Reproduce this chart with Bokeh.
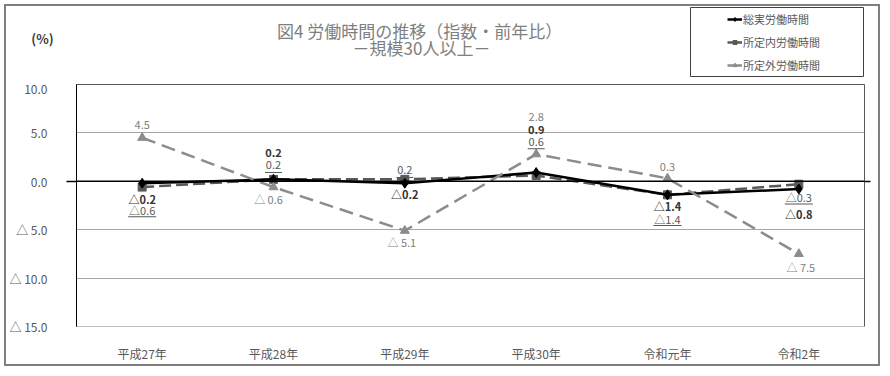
from bokeh.plotting import figure
from bokeh.layouts import column
from bokeh.models import (FactorRange, Range1d, FixedTicker, Span, Legend,
                          LegendItem, LinearAxis)
from bokeh.core.properties import value
from bokeh.embed import file_html
from bokeh.resources import INLINE

# ---------------- data ----------------
years = ["平成27年", "平成28年", "平成29年", "平成30年", "令和元年", "令和2年"]
total_hours = [-0.2, 0.2, -0.2, 0.9, -1.4, -0.8]        # 総実労働時間
scheduled_hours = [-0.6, 0.2, 0.2, 0.6, -1.4, -0.3]     # 所定内労働時間
overtime_hours = [4.5, -0.6, -5.1, 2.8, 0.3, -7.5]      # 所定外労働時間
series_names = ["総実労働時間", "所定内労働時間", "所定外労働時間"]
y_ticks = [10, 5, 0, -5, -10, -15]
y_tick_labels = ["10.0", "5.0", "0.0", "△ 5.0", "△ 10.0", "△ 15.0"]
title_line1 = "図4  労働時間の推移（指数・前年比）"
title_line2 = "－規模30人以上－"
unit_label = "(%)"

# ---------------- layout / style ----------------
FONT = "Noto Sans CJK JP"
OX, OY = 6, 6            # page offset of the chart box
W = 872
HEAD_H = 73
MAIN_H = 285
Y_MIN, Y_MAX = -15, 10
ML, MR, MT, MB = 68, 14, 5, 36
FRAME_H = MAIN_H - MT - MB
PPU = FRAME_H / (Y_MAX - Y_MIN)

# label offsets in pixels (up positive)
total_dy = [-16, 27, -11, 43, -11, -25]
sched_dy = [-23, 14, 9, 34, -24, -13]
over_dy = [13, -12, -11, 38, 11, -13]
over_dx = [0, -5, -3, 0, 0, 2]

C_TOTAL = "black"
C_SCHED = "#595959"
C_OVER = "#8c8c8c"


def fmt(v, space=""):
    return ("△" + space + f"{abs(v):.1f}") if v < 0 else f"{v:.1f}"


# ================= header (title + legend) =================
h = figure(width=W, height=HEAD_H,
           x_range=Range1d(OX, OX + W), y_range=Range1d(OY + HEAD_H, OY),
           output_backend="svg", toolbar_location=None,
           min_border_left=0, min_border_right=0, min_border_top=0, min_border_bottom=0,
           x_axis_location=None, y_axis_location=None)
h.frame_align = False
h.grid.grid_line_color = None
h.outline_line_color = None
h.background_fill_color = "white"
h.border_fill_color = "white"

h.text(x=[421, 421], y=[30, 47], text=[title_line1, title_line2],
       text_font=value(FONT), text_font_size="17px", text_color="#808080",
       text_align="center", text_baseline="middle")
h.text(x=[42], y=[38], text=[unit_label], text_font=value(FONT),
       text_font_size="13px", text_font_style="bold", text_color="#404040",
       text_align="center", text_baseline="middle")
# legend box
h.quad(left=[690], right=[863], top=[7], bottom=[76], fill_color=None,
       line_color="#404040", line_width=1)

# legend-only renderers (their single point lies outside the header's view)
OFF = [-1000]
lt = h.line(x=OFF, y=OFF, line_color=C_TOTAL, line_width=2.5)
mt = h.scatter(x=OFF, y=OFF, marker="diamond", size=9, fill_color=C_TOTAL, line_color=C_TOTAL)
ls = h.line(x=OFF, y=OFF, line_color=C_SCHED, line_width=2.5)
ms = h.scatter(x=OFF, y=OFF, marker="square", size=7, fill_color=C_SCHED, line_color=C_SCHED)
lo = h.line(x=OFF, y=OFF, line_color=C_OVER, line_width=2.5)
mo = h.scatter(x=OFF, y=OFF, marker="triangle", size=8, fill_color=C_OVER, line_color=C_OVER)
legend = Legend(items=[
    LegendItem(label=series_names[0], renderers=[lt, mt]),
    LegendItem(label=series_names[1], renderers=[ls, ms]),
    LegendItem(label=series_names[2], renderers=[lo, mo]),
], location=(727 - OX, 4), border_line_color=None, background_fill_alpha=0,
    label_text_font=FONT, label_text_font_size="11px", label_text_color="#595959",
    glyph_width=15, glyph_height=10, label_height=21, spacing=2, padding=0,
    label_standoff=1, margin=0)
h.add_layout(legend)

# ================= main chart =================
p = figure(x_range=FactorRange(factors=years, range_padding=0),
           y_range=Range1d(Y_MIN, Y_MAX),
           width=W, height=MAIN_H, output_backend="svg", toolbar_location=None,
           min_border_left=ML, min_border_right=MR, min_border_top=MT,
           min_border_bottom=MB)
p.frame_align = False
p.background_fill_color = "white"
p.border_fill_color = "white"
p.outline_line_color = "#595959"
p.outline_line_width = 1

p.xgrid.grid_line_color = None
p.ygrid.ticker = FixedTicker(ticks=y_ticks)
p.ygrid.grid_line_color = "#a6a6a6"
p.ygrid.grid_line_width = 1

p.yaxis.ticker = FixedTicker(ticks=y_ticks, minor_ticks=[0])
p.yaxis.major_label_overrides = dict(zip(y_ticks, y_tick_labels))
p.yaxis.major_tick_line_color = None
p.yaxis.minor_tick_line_color = "black"
p.yaxis.minor_tick_line_width = 1.5
p.yaxis.minor_tick_out = 10
p.yaxis.minor_tick_in = 0
p.yaxis.major_label_standoff = 19
p.yaxis.axis_line_color = "black"
p.yaxis.major_label_text_font = FONT
p.yaxis.major_label_text_font_size = "12px"
p.yaxis.major_label_text_color = "#595959"

# right side: short continuation of the zero line
right_axis = LinearAxis(ticker=FixedTicker(ticks=[], minor_ticks=[0]),
                        axis_line_color=None, major_tick_line_color=None,
                        minor_tick_line_color="black", minor_tick_line_width=1.5,
                        minor_tick_out=6, minor_tick_in=0,
                        major_label_text_font_size="0px")
p.add_layout(right_axis, "right")

p.xaxis.major_tick_line_color = None
p.xaxis.axis_line_color = "#bfbfbf"
p.xaxis.major_label_standoff = 12
p.xaxis.major_label_text_font = FONT
p.xaxis.major_label_text_font_size = "12px"
p.xaxis.major_label_text_color = "#595959"

# zero line
p.add_layout(Span(location=0, dimension="width", line_color="black", line_width=1.5))

# ---------------- series ----------------
p.line(years, scheduled_hours, line_color=C_SCHED, line_width=2.5, line_dash="12 5")
p.scatter(years, scheduled_hours, marker="square", size=8,
          fill_color=C_SCHED, line_color=C_SCHED)
p.line(years, total_hours, line_color=C_TOTAL, line_width=2.5)
p.scatter(years, total_hours, marker="diamond", size=10,
          fill_color=C_TOTAL, line_color=C_TOTAL)
p.line(years, overtime_hours, line_color=C_OVER, line_width=2.5, line_dash="14 7")
p.scatter(years, overtime_hours, marker="triangle", size=9,
          fill_color=C_OVER, line_color=C_OVER)

# ---------------- data labels ----------------
p.text(x=years, y=[v + d / PPU for v, d in zip(total_hours, total_dy)],
       text=[fmt(v) for v in total_hours], text_font=value(FONT),
       text_font_size="11px", text_font_style="bold", text_color="#333333",
       text_align="center", text_baseline="middle")

p.text(x=years, y=[v + d / PPU for v, d in zip(scheduled_hours, sched_dy)],
       text=[fmt(v) for v in scheduled_hours], text_font=value(FONT),
       text_font_size="11px", text_color="#595959",
       text_align="center", text_baseline="middle")
p.rect(x=years, y=[v + (d - 7) / PPU for v, d in zip(scheduled_hours, sched_dy)],
       width=[17 + (11 if v < 0 else 0) for v in scheduled_hours], height=1,
       width_units="screen", height_units="screen",
       fill_color="#595959", line_color=None)

p.text(x=years, y=[v + d / PPU for v, d in zip(overtime_hours, over_dy)],
       x_offset=over_dx,
       text=[fmt(v, " ") for v in overtime_hours], text_font=value(FONT),
       text_font_size="11px", text_color="#7f7f7f",
       text_align="center", text_baseline="middle")

layout = column(h, p, spacing=0)
layout.margin = (OY, 0, 0, OX)
layout.styles = {"outline": "2px solid #7f7f7f"}

open("out.html", "w").write(file_html(layout, INLINE))
